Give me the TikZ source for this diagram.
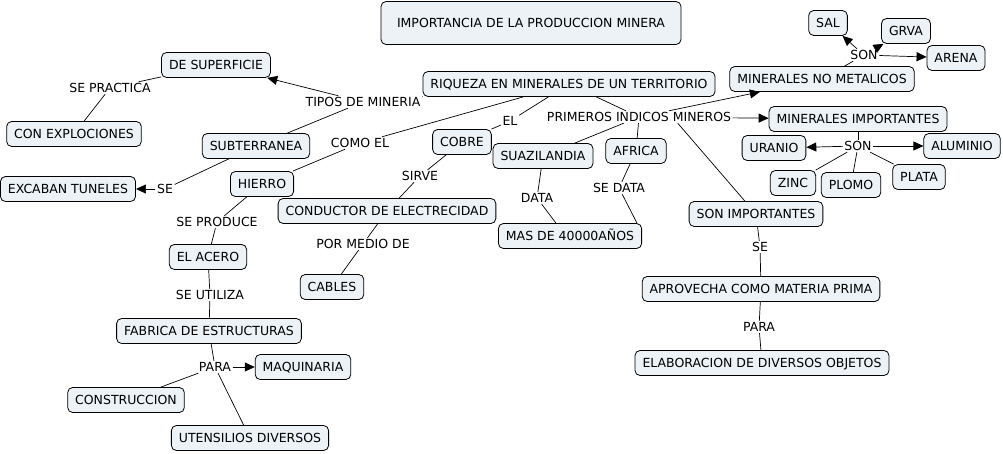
\documentclass[tikz,border=0pt]{standalone}
\usepackage{fontspec}
\setmainfont{DejaVu Sans}
\usetikzlibrary{arrows.meta}
\definecolor{boxfill}{RGB}{236,242,245}
\newcommand\mapfont{\fontsize{12.5}{14}\selectfont}
\tikzset{
  concept/.style={draw, line width=0.8pt, rounded corners=5pt, fill=boxfill,
    minimum height=25pt, inner xsep=7.5pt, inner ysep=0pt,
    text height=9pt, text depth=0pt, font=\mapfont},
  linkword/.style={inner sep=1.5pt, text height=9pt, text depth=0pt, font=\mapfont},
  link/.style={line width=0.7pt},
  linkarrow/.style={link, -{Triangle[length=10pt,width=9pt]}},
}

\begin{document}
\begin{tikzpicture}[x=1pt,y=-1pt]
    \useasboundingbox (0,0) rectangle (1003,454);
    % Title
    \node[concept, minimum width=300pt, minimum height=43pt] (title) at (531,23) {IMPORTANCIA DE LA PRODUCCION MINERA};
    \node[concept] (riqueza) at (569,84) {RIQUEZA EN MINERALES DE UN TERRITORIO};
    % Tipos de mineria
    \node[linkword] (tipos) at (363,102) {TIPOS DE MINERIA};
    \node[concept] (superficie) at (216,65) {DE SUPERFICIE};
    \node[linkword] (practica) at (110,88) {SE PRACTICA};
    \node[concept] (explociones) at (74,134) {CON EXPLOCIONES};
    \node[concept] (subterranea) at (256,146) {SUBTERRANEA};
    \node[linkword] (se1) at (165,189) {SE};
    \node[concept] (tuneles) at (68,189) {EXCABAN TUNELES};
    % Hierro
    \node[linkword] (comoel) at (360,143) {COMO EL};
    \node[concept] (hierro) at (262,184) {HIERRO};
    \node[linkword] (produce) at (217,222) {SE PRODUCE};
    \node[concept] (acero) at (208,257) {EL ACERO};
    \node[linkword] (utiliza) at (210,295) {SE UTILIZA};
    \node[concept] (fabrica) at (209,331) {FABRICA DE ESTRUCTURAS};
    \node[linkword] (para1) at (215,367) {PARA};
    \node[concept] (maquinaria) at (303,367) {MAQUINARIA};
    \node[concept] (construccion) at (126,400) {CONSTRUCCION};
    \node[concept] (utensilios) at (250,438) {UTENSILIOS DIVERSOS};
    % Cobre
    \node[linkword] (el) at (510,121) {EL};
    \node[concept] (cobre) at (462,142) {COBRE};
    \node[linkword] (sirve) at (420,176) {SIRVE};
    \node[concept] (conductor) at (387,211) {CONDUCTOR DE ELECTRECIDAD};
    \node[linkword] (pormedio) at (363,244) {POR MEDIO DE};
    \node[concept] (cables) at (332,287) {CABLES};
    % Primeros indicos
    \node[linkword] (indicos) at (639,117) {PRIMEROS INDICOS MINEROS};
    \node[concept] (suazilandia) at (543,156) {SUAZILANDIA};
    \node[concept] (africa) at (636,151) {AFRICA};
    \node[linkword] (data) at (537,198) {DATA};
    \node[linkword] (sedata) at (619,188) {SE DATA};
    \node[concept] (anos) at (570,236) {MAS DE 40000AÑOS};
    % No metalicos
    \node[concept] (nometalicos) at (822,79) {MINERALES NO METALICOS};
    \node[linkword] (son1) at (864,55) {SON};
    \node[concept] (sal) at (828,23) {SAL};
    \node[concept] (grva) at (906,31) {GRVA};
    \node[concept] (arena) at (956,58) {ARENA};
    % Importantes
    \node[concept] (importantes) at (858,119) {MINERALES IMPORTANTES};
    \node[linkword] (son2) at (858,146) {SON};
    \node[concept] (uranio) at (774,148) {URANIO};
    \node[concept] (aluminio) at (962,146) {ALUMINIO};
    \node[concept] (zinc) at (793,183) {ZINC};
    \node[concept] (plomo) at (851,185) {PLOMO};
    \node[concept] (plata) at (919,177) {PLATA};
    % Son importantes
    \node[concept] (sonimp) at (756,214) {SON IMPORTANTES};
    \node[linkword] (se2) at (760,247) {SE};
    \node[concept] (aprovecha) at (761,289) {APROVECHA COMO MATERIA PRIMA};
    \node[linkword] (para2) at (759,327) {PARA};
    \node[concept] (elaboracion) at (762,363) {ELABORACION DE DIVERSOS OBJETOS};

    % links: tipos de mineria
    \draw[link] (riqueza) -- (tipos);
    \draw[linkarrow] (tipos) -- (superficie);
    \draw[link] (tipos) -- (subterranea);
    \draw[link] (superficie) -- (practica);
    \draw[link] (practica) -- (explociones);
    \draw[link] (subterranea) -- (se1);
    \draw[linkarrow] (se1) -- (tuneles);
    % links: hierro
    \draw[link] (riqueza) -- (comoel);
    \draw[link] (comoel) -- (hierro);
    \draw[link] (hierro) -- (produce);
    \draw[link] (produce) -- (acero);
    \draw[link] (acero) -- (utiliza);
    \draw[link] (utiliza) -- (fabrica);
    \draw[link] (fabrica) -- (para1);
    \draw[linkarrow] (para1) -- (maquinaria);
    \draw[link] (para1) -- (construccion);
    \draw[link] (para1) -- (utensilios);
    % links: cobre
    \draw[link] (riqueza) -- (el);
    \draw[link] (el) -- (cobre);
    \draw[link] (cobre) -- (sirve);
    \draw[link] (sirve) -- (conductor);
    \draw[link] (conductor) -- (pormedio);
    \draw[link] (pormedio) -- (cables);
    % links: primeros indicos
    \draw[link] (riqueza) -- (indicos);
    \draw[linkarrow] (indicos) -- (nometalicos);
    \draw[linkarrow] (indicos) -- (importantes);
    \draw[link] (indicos) -- (suazilandia);
    \draw[link] (indicos) -- (africa);
    \draw[link] (indicos.south east) ++(-55pt,0) -- (sonimp);
    \draw[link] (suazilandia) -- (data);
    \draw[link] (data) -- ([xshift=-14pt]anos.north);
    \draw[link] (africa) -- (sedata);
    \draw[link] (sedata) -- ([xshift=-5pt]anos.north east);
    % links: no metalicos
    \draw[link] (nometalicos) -- (son1);
    \draw[linkarrow] (son1) -- (sal);
    \draw[linkarrow] (son1) -- (grva);
    \draw[linkarrow] (son1) -- (arena);
    % links: importantes
    \draw[link] (importantes) -- (son2);
    \draw[linkarrow] (son2) -- (uranio);
    \draw[linkarrow] (son2) -- (aluminio);
    \draw[link] (son2) -- (zinc);
    \draw[link] (son2) -- (plomo);
    \draw[link] (son2) -- (plata);
    % links: son importantes
    \draw[link] (sonimp) -- (se2);
    \draw[link] (se2) -- (aprovecha);
    \draw[link] (aprovecha) -- (para2);
    \draw[link] (para2) -- (elaboracion);
\end{tikzpicture}
\end{document}
